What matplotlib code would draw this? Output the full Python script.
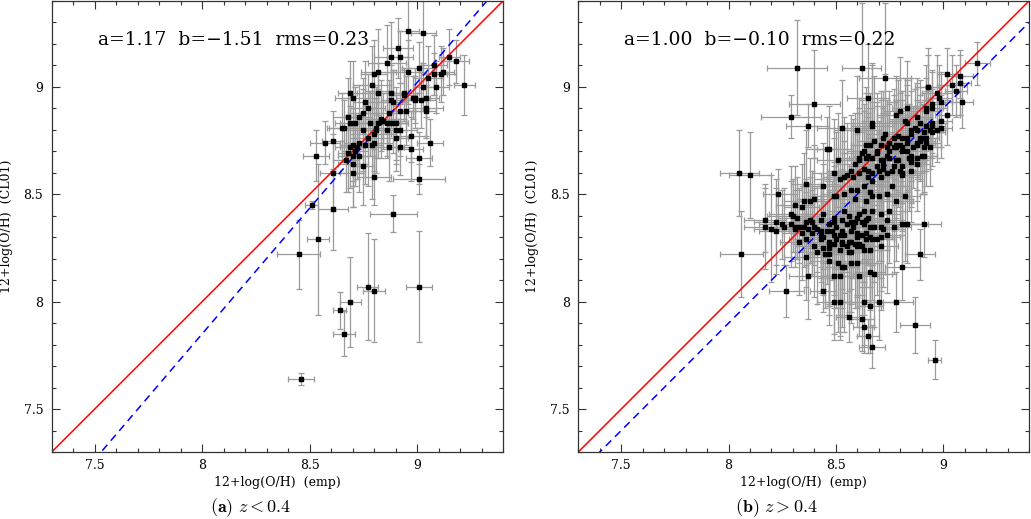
import matplotlib
matplotlib.use("Agg")
import matplotlib.pyplot as plt
from matplotlib.ticker import MultipleLocator, FormatStrFormatter
import numpy as np

# ---- panel (a): z < 0.4 ----
left_x = [
    8.96, 9.03, 8.91, 8.88, 8.92, 8.86, 9.18, 9.15, 8.96, 9.01,
    9.08, 9.12, 9.11, 9.08, 9.22, 9.09, 9.05, 9.03, 8.82, 8.80,
    8.79, 8.88, 8.69, 8.70, 8.82, 8.94, 8.76, 8.77, 8.88, 8.89,
    8.94, 8.98, 8.99, 8.99, 9.02, 9.04, 9.04, 9.04, 8.95, 8.92,
    8.87, 8.83, 8.83, 8.82, 8.81, 8.84, 8.86, 8.87, 8.89, 8.90,
    8.90, 8.86, 8.90, 8.92, 8.68, 8.73, 8.71, 8.69, 8.65, 8.66,
    8.75, 8.78, 8.81, 8.80, 8.77, 8.76, 8.80, 8.79, 8.73, 8.70,
    8.72, 8.69, 8.71, 8.68, 8.70, 8.73, 8.67, 8.70, 8.75, 8.70,
    8.80, 8.61, 8.57, 8.53, 8.61, 8.97, 8.97, 8.92, 8.87, 9.01,
    9.06, 9.01, 8.75,
    8.46, 8.45, 8.54, 8.51, 8.61, 8.64, 8.69, 8.66, 8.77, 8.80, 9.01, 8.89,
]
left_y = [
    9.26, 9.25, 9.18, 9.14, 9.14, 9.11, 9.12, 9.14, 9.07, 9.09,
    9.10, 9.07, 9.06, 9.06, 9.01, 9.00, 9.04, 9.00, 9.07, 9.06,
    9.01, 8.97, 8.97, 8.95, 8.97, 8.97, 8.93, 8.90, 8.94, 8.93,
    8.96, 8.95, 8.95, 8.94, 8.94, 8.95, 8.89, 8.90, 8.89, 8.89,
    8.88, 8.85, 8.84, 8.83, 8.80, 8.84, 8.83, 8.83, 8.83, 8.83,
    8.80, 8.80, 8.76, 8.80, 8.86, 8.86, 8.83, 8.83, 8.81, 8.81,
    8.80, 8.83, 8.81, 8.78, 8.76, 8.73, 8.74, 8.73, 8.74, 8.73,
    8.72, 8.72, 8.70, 8.69, 8.68, 8.68, 8.66, 8.64, 8.63, 8.60,
    8.58, 8.75, 8.74, 8.68, 8.60, 8.77, 8.71, 8.72, 8.72, 8.67,
    8.74, 8.57, 8.88,
    7.64, 8.22, 8.29, 8.45, 8.43, 7.96, 8.00, 7.85, 8.07, 8.05, 8.07, 8.41,
]
left_xerr = [
    0.05, 0.06, 0.07, 0.08, 0.06, 0.09, 0.06, 0.05, 0.07, 0.08,
    0.06, 0.05, 0.07, 0.06, 0.05, 0.06, 0.07, 0.05, 0.08, 0.06,
    0.09, 0.07, 0.06, 0.08, 0.10, 0.07, 0.06, 0.08, 0.05, 0.07,
    0.06, 0.08, 0.05, 0.06, 0.07, 0.06, 0.05, 0.08, 0.07, 0.06,
    0.09, 0.07, 0.06, 0.08, 0.05, 0.07, 0.06, 0.08, 0.07, 0.06,
    0.05, 0.07, 0.06, 0.08, 0.07, 0.06, 0.09, 0.05, 0.06, 0.08,
    0.07, 0.06, 0.05, 0.08, 0.07, 0.06, 0.09, 0.05, 0.07, 0.06,
    0.08, 0.07, 0.06, 0.05, 0.07, 0.08, 0.06, 0.07, 0.05, 0.06,
    0.08, 0.05, 0.07, 0.06, 0.06, 0.07, 0.06, 0.05, 0.07, 0.06,
    0.06, 0.12, 0.07,
    0.06, 0.10, 0.05, 0.03, 0.07, 0.03, 0.05, 0.05, 0.05, 0.05, 0.06, 0.11,
]
left_yerr = [
    0.17, 0.15, 0.14, 0.16, 0.12, 0.18, 0.10, 0.13, 0.15, 0.12,
    0.14, 0.11, 0.13, 0.10, 0.14, 0.12, 0.15, 0.11, 0.20, 0.16,
    0.18, 0.13, 0.15, 0.17, 0.14, 0.12, 0.19, 0.16, 0.13, 0.15,
    0.12, 0.10, 0.14, 0.11, 0.13, 0.09, 0.12, 0.14, 0.16, 0.13,
    0.15, 0.18, 0.14, 0.16, 0.20, 0.13, 0.15, 0.12, 0.14, 0.17,
    0.16, 0.13, 0.15, 0.12, 0.18, 0.15, 0.17, 0.14, 0.16, 0.13,
    0.19, 0.15, 0.14, 0.17, 0.22, 0.18, 0.16, 0.25, 0.14, 0.17,
    0.15, 0.19, 0.16, 0.18, 0.14, 0.17, 0.15, 0.20, 0.18, 0.16,
    0.13, 0.14, 0.10, 0.12, 0.18, 0.12, 0.15, 0.13, 0.16, 0.12,
    0.11, 0.07, 0.16,
    0.03, 0.16, 0.35, 0.02, 0.19, 0.085, 0.21, 0.105, 0.25, 0.24, 0.26, 0.085,
]

# ---- panel (b): z > 0.4 ----
right_x = [
    # upper band
    8.62, 8.73, 8.65, 9.02, 9.08, 9.08, 9.16, 9.04, 8.93, 9.09,
    8.98, 8.97, 8.99, 8.95, 8.95, 8.92, 8.92, 8.83, 8.80, 8.78,
    8.82, 8.67, 8.60, 8.53, 9.02, 8.99, 8.95, 8.94, 8.97, 8.95,
    8.89, 8.88, 8.87, 8.85, 8.85, 8.83, 8.81, 8.79, 8.77, 8.75,
    8.73, 8.72, 8.71, 8.68, 8.66, 8.64, 8.63, 8.62, 8.61, 8.64,
    8.65, 8.67, 8.69, 8.71, 8.72, 8.74, 8.75, 8.77, 8.78, 8.80,
    8.81, 8.83, 8.84, 8.85, 8.78, 8.77, 8.76, 8.74, 8.72, 8.70,
    8.67, 8.65, 8.63, 8.61, 8.59, 8.61, 8.57, 8.55, 8.54, 8.52,
    8.51, 8.58, 8.65, 8.67, 8.71, 8.80, 8.81, 8.88, 8.90, 8.88,
    8.86, 8.88, 8.88, 8.89, 8.90, 8.92, 8.92, 8.91, 8.94, 8.95,
    8.49, 8.47, 8.82, 8.78, 8.76, 8.67, 8.66, 8.63, 8.60, 8.57,
    8.54, 8.50, 8.49, 8.59, 8.64, 8.70, 8.74,
    # lower cloud
    8.31, 8.34, 8.29, 8.30, 8.32, 8.25, 8.26, 8.29, 8.31, 8.33,
    8.35, 8.37, 8.40, 8.41, 8.43, 8.46, 8.48, 8.50, 8.53, 8.55,
    8.57, 8.58, 8.60, 8.61, 8.63, 8.64, 8.66, 8.68, 8.71, 8.72,
    8.74, 8.77, 8.81, 8.83, 8.91, 8.56, 8.57, 8.52, 8.49, 8.50,
    8.47, 8.47, 8.53, 8.54, 8.56, 8.57, 8.59, 8.60, 8.62, 8.66,
    8.67, 8.69, 8.71, 8.74, 8.71, 8.66, 8.62, 8.60, 8.56, 8.52,
    8.47, 8.44, 8.40, 8.36, 8.36, 8.33, 8.39, 8.44, 8.47, 8.51,
    8.53, 8.60, 8.66, 8.68, 8.61, 8.52, 8.49, 8.37, 8.81, 8.89,
    8.27, 8.44, 8.49, 8.52, 8.63, 8.66, 8.70, 8.78, 8.56, 8.62,
    8.63, 8.65, 8.67, 8.87,
    8.43, 8.38, 8.47, 8.44, 8.49, 8.63, 8.67, 8.71, 8.75, 8.54,
    # left side and outliers
    8.05, 8.10, 8.23, 8.17, 8.17, 8.06, 8.22, 8.36, 8.44, 8.38,
    8.32, 8.29, 8.37, 8.40, 8.46, 8.96, 8.22, 8.20,
]
right_y = [
    9.09, 9.04, 8.95, 9.06, 9.05, 9.02, 9.11, 9.01, 9.00, 8.93,
    8.95, 8.97, 8.93, 8.92, 8.90, 8.90, 8.89, 8.90, 8.89, 8.87,
    8.84, 8.82, 8.80, 8.81, 8.87, 8.84, 8.83, 8.80, 8.80, 8.82,
    8.83, 8.80, 8.81, 8.80, 8.78, 8.76, 8.76, 8.77, 8.76, 8.74,
    8.78, 8.76, 8.73, 8.75, 8.73, 8.73, 8.70, 8.69, 8.67, 8.67,
    8.68, 8.67, 8.69, 8.66, 8.66, 8.68, 8.70, 8.72, 8.73, 8.73,
    8.72, 8.70, 8.67, 8.66, 8.66, 8.63, 8.61, 8.60, 8.62, 8.61,
    8.60, 8.61, 8.62, 8.66, 8.64, 8.60, 8.61, 8.59, 8.58, 8.57,
    8.66, 8.58, 8.58, 8.56, 8.58, 8.61, 8.59, 8.67, 8.68, 8.64,
    8.72, 8.74, 8.73, 8.75, 8.76, 8.76, 8.74, 8.72, 8.72, 8.79,
    8.60, 8.71, 8.49, 8.47, 8.54, 8.49, 8.51, 8.54, 8.52, 8.52,
    8.50, 8.49, 8.49, 8.48, 8.47, 8.49, 8.50,
    8.45, 8.44, 8.41, 8.40, 8.39, 8.36, 8.35, 8.36, 8.35, 8.35,
    8.35, 8.34, 8.35, 8.34, 8.33, 8.33, 8.33, 8.35, 8.38, 8.36,
    8.37, 8.35, 8.39, 8.41, 8.36, 8.38, 8.35, 8.35, 8.35, 8.34,
    8.38, 8.35, 8.36, 8.36, 8.36, 8.40, 8.33, 8.31, 8.31, 8.29,
    8.28, 8.27, 8.28, 8.31, 8.28, 8.28, 8.27, 8.30, 8.31, 8.30,
    8.29, 8.29, 8.30, 8.31, 8.26, 8.24, 8.26, 8.26, 8.23, 8.24,
    8.22, 8.25, 8.26, 8.21, 8.29, 8.28, 8.32, 8.30, 8.19, 8.18,
    8.16, 8.18, 8.14, 8.13, 8.12, 8.12, 8.12, 8.12, 8.16, 8.22,
    8.05, 8.05, 8.00, 8.00, 8.00, 7.98, 8.00, 8.00, 7.93, 7.92,
    7.88, 7.84, 7.79, 7.89,
    8.38, 8.38, 8.36, 8.41, 8.39, 8.42, 8.42, 8.41, 8.42, 8.42,
    8.60, 8.59, 8.50, 8.38, 8.35, 8.22, 8.33, 8.55, 8.54, 8.47,
    9.09, 8.86, 8.82, 8.92, 8.71, 7.73, 8.37, 8.34,
]
right_xerr = [
    0.09, 0.12, 0.10, 0.05, 0.06, 0.05, 0.06, 0.07, 0.06, 0.05,
    0.06, 0.07, 0.05, 0.06, 0.07, 0.08, 0.06, 0.07, 0.08, 0.09,
    0.07, 0.10, 0.11, 0.12, 0.06, 0.05, 0.07, 0.06, 0.05, 0.06,
    0.08, 0.07, 0.06, 0.07, 0.08, 0.06, 0.07, 0.08, 0.06, 0.07,
    0.09, 0.08, 0.07, 0.08, 0.09, 0.07, 0.08, 0.09, 0.10, 0.08,
    0.07, 0.09, 0.08, 0.07, 0.06, 0.08, 0.07, 0.06, 0.08, 0.07,
    0.06, 0.07, 0.08, 0.06, 0.07, 0.08, 0.09, 0.07, 0.08, 0.06,
    0.09, 0.08, 0.07, 0.10, 0.09, 0.08, 0.11, 0.09, 0.10, 0.12,
    0.10, 0.09, 0.07, 0.08, 0.06, 0.07, 0.08, 0.06, 0.07, 0.06,
    0.07, 0.08, 0.06, 0.07, 0.05, 0.06, 0.07, 0.06, 0.05, 0.06,
    0.10, 0.11, 0.07, 0.08, 0.06, 0.09, 0.08, 0.07, 0.10, 0.09,
    0.11, 0.10, 0.12, 0.08, 0.07, 0.06, 0.08,
    0.09, 0.08, 0.10, 0.12, 0.09, 0.11, 0.10, 0.12, 0.09, 0.08,
    0.10, 0.09, 0.11, 0.08, 0.07, 0.09, 0.08, 0.07, 0.09, 0.08,
    0.07, 0.09, 0.08, 0.07, 0.09, 0.08, 0.07, 0.10, 0.08, 0.09,
    0.07, 0.08, 0.09, 0.10, 0.08, 0.07, 0.09, 0.08, 0.07, 0.09,
    0.08, 0.10, 0.07, 0.08, 0.09, 0.07, 0.08, 0.09, 0.07, 0.08,
    0.10, 0.08, 0.09, 0.07, 0.08, 0.09, 0.07, 0.08, 0.10, 0.09,
    0.08, 0.07, 0.09, 0.10, 0.08, 0.09, 0.07, 0.08, 0.09, 0.07,
    0.08, 0.09, 0.07, 0.08, 0.09, 0.07, 0.08, 0.09, 0.08, 0.07,
    0.08, 0.06, 0.08, 0.07, 0.09, 0.06, 0.07, 0.08, 0.06, 0.06,
    0.05, 0.05, 0.06, 0.07,
    0.08, 0.09, 0.07, 0.08, 0.09, 0.07, 0.08, 0.09, 0.07, 0.08,
    0.09, 0.10, 0.07, 0.10, 0.10, 0.10, 0.08, 0.07, 0.08, 0.06,
    0.14, 0.14, 0.10, 0.12, 0.05, 0.03, 0.10, 0.08,
]
right_yerr = [
    0.30, 0.35, 0.25, 0.12, 0.10, 0.15, 0.10, 0.14, 0.18, 0.12,
    0.15, 0.18, 0.14, 0.16, 0.17, 0.20, 0.15, 0.22, 0.25, 0.18,
    0.20, 0.28, 0.25, 0.22, 0.14, 0.12, 0.16, 0.18, 0.15, 0.13,
    0.20, 0.22, 0.18, 0.24, 0.20, 0.25, 0.22, 0.26, 0.20, 0.24,
    0.28, 0.22, 0.25, 0.30, 0.24, 0.27, 0.22, 0.25, 0.28, 0.30,
    0.22, 0.26, 0.24, 0.28, 0.25, 0.20, 0.23, 0.27, 0.21, 0.24,
    0.26, 0.22, 0.25, 0.20, 0.27, 0.30, 0.24, 0.28, 0.26, 0.23,
    0.30, 0.25, 0.27, 0.22, 0.24, 0.30, 0.26, 0.24, 0.28, 0.25,
    0.22, 0.27, 0.30, 0.25, 0.28, 0.24, 0.26, 0.20, 0.18, 0.22,
    0.19, 0.17, 0.21, 0.18, 0.16, 0.15, 0.20, 0.22, 0.18, 0.16,
    0.25, 0.20, 0.30, 0.28, 0.25, 0.32, 0.27, 0.30, 0.26, 0.28,
    0.25, 0.30, 0.27, 0.32, 0.28, 0.30, 0.26,
    0.18, 0.20, 0.22, 0.17, 0.19, 0.16, 0.18, 0.20, 0.15, 0.17,
    0.19, 0.21, 0.18, 0.20, 0.22, 0.25, 0.23, 0.20, 0.24, 0.22,
    0.26, 0.24, 0.25, 0.22, 0.27, 0.25, 0.28, 0.26, 0.24, 0.27,
    0.25, 0.22, 0.20, 0.18, 0.15, 0.24, 0.27, 0.30, 0.28, 0.32,
    0.30, 0.28, 0.31, 0.27, 0.33, 0.29, 0.30, 0.27, 0.28, 0.31,
    0.28, 0.26, 0.25, 0.27, 0.30, 0.28, 0.32, 0.29, 0.31, 0.30,
    0.28, 0.22, 0.24, 0.20, 0.22, 0.25, 0.20, 0.24, 0.30, 0.32,
    0.28, 0.30, 0.26, 0.25, 0.28, 0.30, 0.27, 0.20, 0.15, 0.12,
    0.12, 0.10, 0.18, 0.16, 0.20, 0.22, 0.18, 0.14, 0.12, 0.15,
    0.12, 0.08, 0.10, 0.13,
    0.22, 0.20, 0.25, 0.23, 0.26, 0.24, 0.25, 0.22, 0.24, 0.27,
    0.20, 0.20, 0.12, 0.15, 0.20, 0.20, 0.20, 0.25, 0.20, 0.20,
    0.22, 0.10, 0.10, 0.25, 0.15, 0.09, 0.20, 0.25,
]

# more points picked from close-ups of the two dense clumps in (b)
right_more_x = [
    8.40, 8.35, 8.36, 8.39, 8.31, 8.34, 8.49, 8.59, 8.62, 8.65,
    8.53, 8.60, 8.64, 8.64, 8.49, 8.53, 8.55, 8.61, 8.63, 8.57,
    8.47, 8.45, 8.41, 8.54, 8.57, 8.43, 8.43,
    8.93, 9.06, 8.88, 8.83, 8.92, 8.99, 8.91, 8.89, 8.83, 8.67,
    8.74, 8.81, 8.85, 8.75, 8.72, 8.69, 8.79, 8.81, 8.85, 8.91,
    8.81, 8.85, 8.69, 8.78,
]
right_more_y = [
    8.48, 8.47, 8.37, 8.37, 8.34, 8.32, 8.37, 8.37, 8.37, 8.39,
    8.33, 8.32, 8.32, 8.29, 8.27, 8.27, 8.26, 8.27, 8.24, 8.23,
    8.25, 8.22, 8.23, 8.16, 8.18, 8.31, 8.29,
    9.00, 8.98, 8.86, 8.83, 8.82, 8.81, 8.79, 8.76, 8.74, 8.83,
    8.72, 8.70, 8.68, 8.67, 8.64, 8.63, 8.66, 8.63, 8.65, 8.68,
    8.60, 8.61, 8.70, 8.72,
]
right_more_xerr = [
    0.08, 0.09, 0.07, 0.08, 0.10, 0.09, 0.07, 0.08, 0.09, 0.07,
    0.08, 0.07, 0.09, 0.08, 0.07, 0.08, 0.09, 0.07, 0.08, 0.09,
    0.07, 0.08, 0.10, 0.07, 0.08, 0.09, 0.08,
    0.06, 0.05, 0.07, 0.08, 0.06, 0.05, 0.07, 0.08, 0.07, 0.10,
    0.08, 0.07, 0.06, 0.09, 0.08, 0.09, 0.07, 0.08, 0.07, 0.06,
    0.08, 0.07, 0.09, 0.08,
]
right_more_yerr = [
    0.25, 0.22, 0.20, 0.24, 0.18, 0.22, 0.26, 0.24, 0.28, 0.22,
    0.27, 0.30, 0.25, 0.28, 0.30, 0.27, 0.32, 0.29, 0.30, 0.28,
    0.27, 0.25, 0.24, 0.30, 0.28, 0.22, 0.25,
    0.15, 0.12, 0.18, 0.20, 0.16, 0.14, 0.18, 0.20, 0.22, 0.28,
    0.22, 0.24, 0.20, 0.25, 0.26, 0.28, 0.22, 0.25, 0.21, 0.18,
    0.26, 0.24, 0.27, 0.22,
]

fit_a = [1.17, 1.00]
fit_b = [-1.51, -0.10]
fit_rms = [0.23, 0.22]
captions = [r"$\mathbf{(a)}\ z < 0.4$", r"$\mathbf{(b)}\ z > 0.4$"]

plt.rcParams["font.family"] = "DejaVu Serif"
plt.rcParams["mathtext.fontset"] = "cm"

fig = plt.figure(figsize=(10.31, 5.19), dpi=100)
W, H = 1031, 519
boxes = [(51.7, 503), (578.3, 1029)]
panels = [
    (left_x, left_y, left_xerr, left_yerr),
    (right_x + right_more_x, right_y + right_more_y,
     right_xerr + right_more_xerr, right_yerr + right_more_yerr),
]
caption_x = [251, 776]
lim = (7.3, 9.4)

for i, ((x0, x1), (xs, ys, xe, ye)) in enumerate(zip(boxes, panels)):
    ax = fig.add_axes([x0 / W, 1 - 452 / H, (x1 - x0) / W, 451 / H])
    ax.errorbar(xs, ys, xerr=xe, yerr=ye, fmt="none", ecolor="#9a9a9a",
                elinewidth=0.9, capsize=2.3, capthick=0.9, zorder=1)
    grid = np.array(lim)
    ax.plot(grid, grid, color="red", lw=1.1, zorder=2)
    ax.plot(grid, fit_a[i] * grid + fit_b[i], color="blue", lw=1.1,
            ls=(0, (5, 3.5)), zorder=2)
    ax.plot(xs, ys, "s", color="black", ms=3.0, zorder=3)
    ax.set_xlim(lim)
    ax.set_ylim(lim)
    for s in ax.spines.values():
        s.set_linewidth(0.9)
        s.set_color("#333333")
    for a in (ax.xaxis, ax.yaxis):
        a.set_major_locator(MultipleLocator(0.5))
        a.set_minor_locator(MultipleLocator(0.1))
        a.set_major_formatter(FormatStrFormatter("%g"))
    ax.tick_params(which="both", direction="in", top=True, right=True,
                   labelsize=9, color="#333333")
    ax.tick_params(which="major", length=6, width=0.8)
    ax.tick_params(which="minor", length=3, width=0.8)
    ax.tick_params(axis="x", pad=5)
    ax.tick_params(axis="y", pad=6)
    ax.set_xlabel("12+log(O/H)  (emp)", fontsize=9, labelpad=3)
    ax.set_ylabel("12+log(O/H)  (CL01)", fontsize=9, labelpad=8)
    label = f"a={fit_a[i]:.2f}  b={fit_b[i]:.2f}  rms={fit_rms[i]:.2f}"
    ax.text(8.147, 9.22, label.replace("-", "\u2212"), fontsize=13.5,
            ha="center", va="center")
    fig.text(caption_x[i] / W, 1 - 508 / H, captions[i], fontsize=13,
             ha="center", va="center")

fig.savefig("out.png", dpi=100)
